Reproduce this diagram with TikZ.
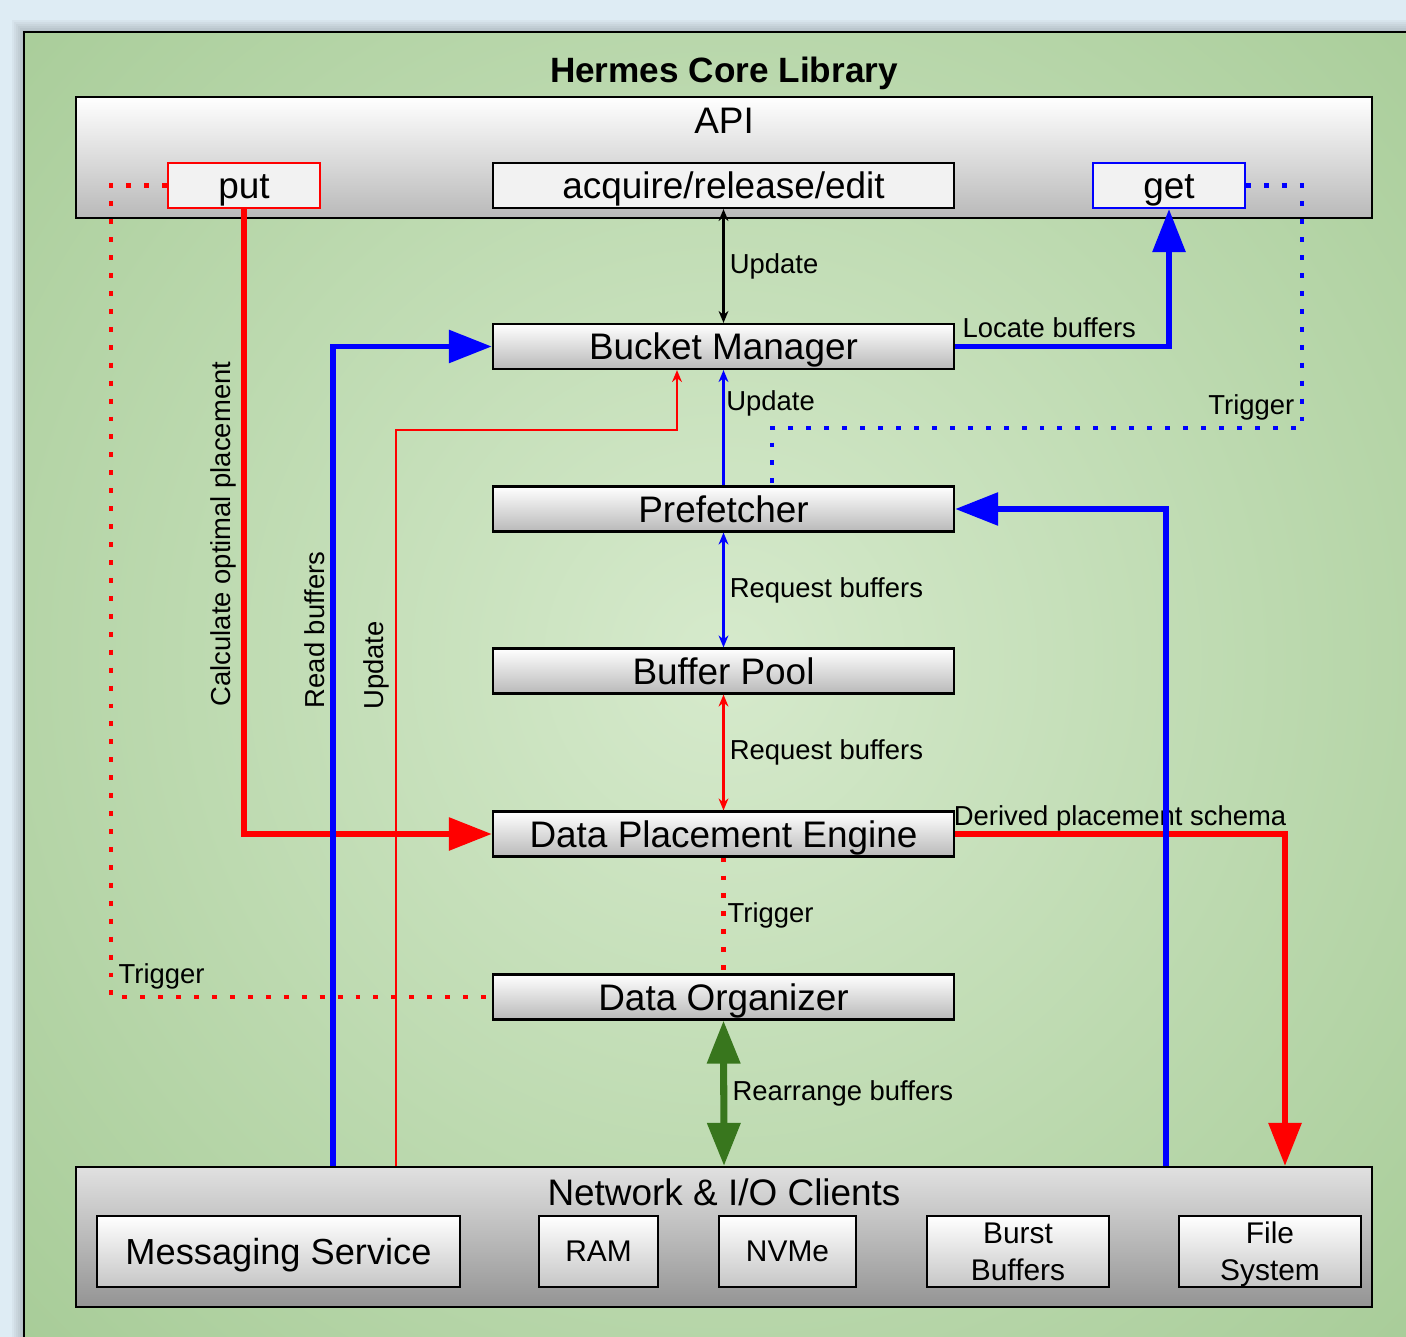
\documentclass[tikz,border=0pt]{standalone}
\usepackage{fontspec}
\setmainfont{Liberation Sans}
\usetikzlibrary{arrows.meta,positioning}

\definecolor{pageblue}{RGB}{222,236,244}
\definecolor{greenin}{RGB}{214,234,204}
\definecolor{greenout}{RGB}{155,196,138}
\definecolor{arrowgreen}{RGB}{56,118,29}
\definecolor{hred}{RGB}{255,0,0}
\definecolor{hblue}{RGB}{0,0,255}

\tikzset{
  comp/.style={draw, line width=0.6pt, top color=white, bottom color=gray!55,
    minimum width=4.61cm, minimum height=0.45cm, inner sep=0pt,
    text height=7.5pt, text depth=0pt, font=\fontsize{10.5}{12}\selectfont},
  panel/.style={draw, line width=0.6pt, minimum width=12.96cm, inner sep=0pt},
  call/.style={draw, line width=0.6pt, fill=black!5, minimum height=0.45cm,
    inner sep=0pt, text height=7.5pt, text depth=0pt,
    font=\fontsize{10.5}{12}\selectfont},
  dev/.style={draw, line width=0.6pt, top color=white, bottom color=gray!45,
    minimum height=0.71cm, inner sep=0pt, align=center, text depth=0pt,
    font=\fontsize{8.5}{10.5}\selectfont},
  lbl/.style={font=\fontsize{7.8}{9}\selectfont, text=black, inner sep=1.5pt},
  wire/.style={line width=0.6pt},
  bus/.style={line width=1.7pt},
  dots/.style={line width=1.4pt, dash pattern=on 1.4pt off 3.7pt},
  big/.style={-{Triangle[length=0.43cm,width=0.32cm]}},
}

\begin{document}
\begin{tikzpicture}[x=0.01cm, y=-0.01cm, >={Stealth[length=3.4pt,width=2.8pt]}]
\useasboundingbox (0,0) rectangle (1406,1337);
% page, shadow and frame
\fill[pageblue] (0,0) rectangle (1406,1337);
\foreach \s in {1,...,6}
  \fill[black, opacity=0.03] (24-2*\s,32-2*\s) rectangle (1406,1337);
\begin{scope}
  \clip (24,32) rectangle (1406,1337);
  \shade[inner color=greenin, outer color=greenout] (724,660) circle[radius=12.5cm];
\end{scope}
\draw[line width=0.7pt] (1406,32) -- (24,32) -- (24,1337);
%
% API
\node (api) [panel, top color=white, bottom color=gray!55, minimum height=1.21cm] at (724,157.5) {};
\node (apitxt) [below=0pt of api.north, font=\fontsize{10.5}{12}\selectfont] {API};
\node (title) [above=-0.06cm of api, font=\bfseries\fontsize{10}{12}\selectfont] {Hermes Core Library};
\node (put) [call, draw=hred, minimum width=1.52cm] at (244,185.5) {put};
\node (acq) [call, minimum width=4.61cm] at (723.5,185.5) {acquire/release/edit};
\node (get) [call, draw=hblue, minimum width=1.52cm] at (1169,185.5) {get};
%
% core components
\node (bm) [comp] at (723.5,346.5) {Bucket Manager};
\node (pf) [comp] at (723.5,509) {Prefetcher};
\node (bp) [comp] at (723.5,671) {Buffer Pool};
\node (dpe) [comp] at (723.5,834) {Data Placement Engine};
\node (dorg) [comp] at (723.5,997) {Data Organizer};
%
% clients
\node (net) [panel, top color=black!12, bottom color=black!42, minimum height=1.40cm] at (724,1237) {};
\node (nettxt) [below=0pt of net.north, font=\fontsize{10.5}{12}\selectfont] {Network \& I/O Clients};
\node (msg) [dev, minimum width=3.63cm, font=\fontsize{10.3}{12}\selectfont] at (278.5,1251.5) {Messaging Service};
\node (ram) [dev, minimum width=1.19cm] at (598.5,1251.5) {RAM};
\node (nvme) [dev, minimum width=1.37cm] at (787.5,1251.5) {NVMe};
\node (bb) [dev, minimum width=1.82cm] at (1018,1251.5) {Burst\\Buffers};
\node (fs) [dev, minimum width=1.82cm] at (1270,1251.5) {File\\System};
%
% bends
\coordinate (ptl) at (111,185.5);
\coordinate (gtr) at (1302,185.5);
\coordinate (gtl) at (772,428);
\coordinate (rbx) at (333,0);
\coordinate (upx) at (396,430);
\coordinate (upy) at (677,430);
\coordinate (pfx) at (1166,0);
\coordinate (dpx) at (1285,0);
%
% middle column
\draw[wire,<->] (acq.south) -- (bm.north) node[lbl,midway,right] {Update};
\draw[wire,hblue,->] (pf.north) -- (bm.south) node[lbl,pos=0.71,right,inner sep=0.5pt] {Update};
\draw[wire,hblue,<->] (pf.south) -- (bp.north) node[lbl,midway,right] {Request buffers};
\draw[wire,hred,<->] (bp.south) -- (dpe.north) node[lbl,midway,right] {Request buffers};
\draw[dots,hred] (dpe.south) -- (dorg.north) node[lbl,midway,right,inner sep=0.5pt] {Trigger};
\draw[line width=2pt,arrowgreen,{Triangle[length=0.43cm,width=0.32cm]}-{Triangle[length=0.43cm,width=0.32cm]}]
  (dorg.south) -- (net.north) node[lbl,midway,right] {Rearrange buffers};
%
% left side
\draw[bus,hred,big] (put.south) |- (dpe.west)
  node[lbl,pos=0.26,rotate=90,anchor=south] {Calculate optimal placement};
\draw[bus,hblue,big] (net.north -| rbx) |- (bm.west)
  node[lbl,pos=0.327,rotate=90,anchor=south] {Read buffers};
\draw[wire,hred,->] (net.north -| upx) -- node[lbl,pos=0.68,rotate=90,anchor=south] {Update}
  (upx) -- (upy) -- (bm.south -| upy);
\draw[dots,hred] (put.west) -- (ptl) |- (dorg.west) node[lbl,pos=0.5,anchor=south west] {Trigger};
%
% right side
\draw[bus,hblue,big] (bm.east) -| (get.south) node[lbl,pos=0.22,above] {Locate buffers};
\draw[bus,hred,big] (dpe.east) -| (net.north -| dpx) node[lbl,pos=0.25,above,inner sep=0pt] {Derived placement schema};
\draw[bus,hblue,big] (net.north -| pfx) |- (pf.east);
\draw[dots,hblue] (get.east) -- (gtr) |- (gtl) node[lbl,pos=0.5,anchor=south east] {Trigger}
  -- (pf.north -| gtl);
%
\end{tikzpicture}
\end{document}
